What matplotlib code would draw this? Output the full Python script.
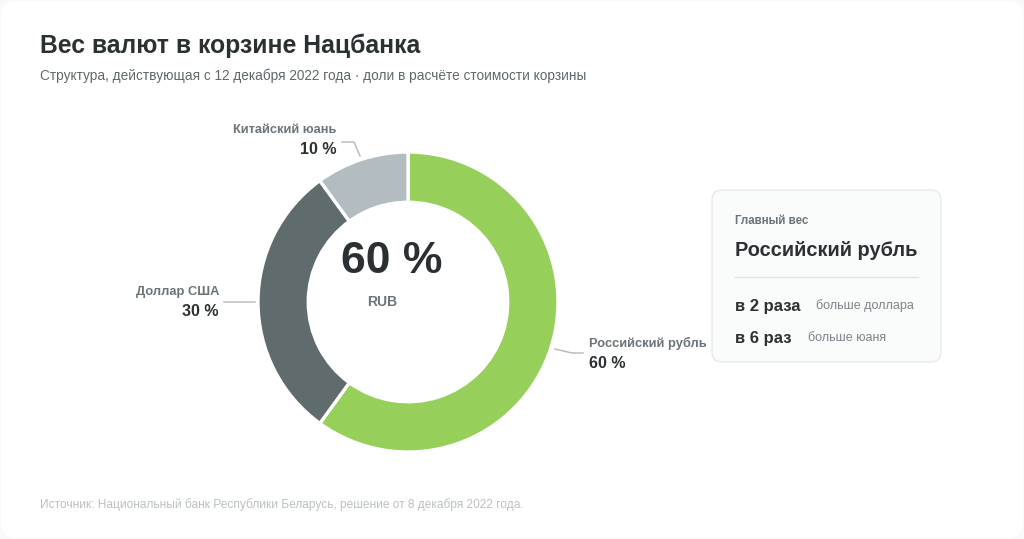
import matplotlib
matplotlib.use("Agg")
import matplotlib.pyplot as plt
from matplotlib.patches import FancyBboxPatch

plt.rcParams['font.family'] = ['Liberation Sans', 'DejaVu Sans']

# Data
currencies = ["Российский рубль", "Доллар США", "Китайский юань"]
codes = ["RUB", "USD", "CNY"]
shares = [60, 30, 10]
colors = ["#97cf5b", "#606b6e", "#b3bcc1"]

title = "Вес валют в корзине Нацбанка"
subtitle = "Структура, действующая с 12 декабря 2022 года · доли в расчёте стоимости корзины"
source = "Источник: Национальный банк Республики Беларусь, решение от 8 декабря 2022 года."
card_head = "Главный вес"
card_rows = [("в 2 раза", "больше доллара"), ("в 6 раз", "больше юаня")]

W, H = 1024, 539
fig = plt.figure(figsize=(W / 100, H / 100), dpi=100)
fig.patch.set_facecolor("#f8f9f9")

bg = fig.add_axes([0, 0, 1, 1])
bg.set_xlim(0, W)
bg.set_ylim(H, 0)
bg.axis("off")
bg.add_patch(FancyBboxPatch((1, 1), W - 2, H - 2, boxstyle="round,pad=0,rounding_size=16",
                            facecolor="white", edgecolor="none", zorder=0))

DARK = "#2b3133"
MID = "#6b7478"
LIGHT = "#b9c1c5"

bg.text(40, 46, title, fontsize=17.8, fontweight="bold", color=DARK, va="center", ha="left")
bg.text(40, 76, subtitle, fontsize=9.8, color="#5f686c", va="center", ha="left")
bg.text(40, 505, source, fontsize=8.55, color=LIGHT, va="center", ha="left")

# Donut
cx, cy, R = 408, 302, 150
pax = fig.add_axes([(cx - R) / W, (H - cy - R) / H, 2 * R / W, 2 * R / H])
pax.pie(shares, colors=colors, startangle=90, counterclock=False, radius=1.0,
        wedgeprops=dict(width=0.335, edgecolor="white", linewidth=2.4))
pax.set_xlim(-1, 1)
pax.set_ylim(-1, 1)
pax.axis("off")

pax.text(-0.11, 0.27, f"{shares[0]} %", fontsize=32, fontweight="bold", color=DARK,
         ha="center", va="center", transform=pax.transData)
pax.text(-0.17, -0.0, codes[0], fontsize=10, fontweight="bold", color=MID,
         ha="center", va="center", transform=pax.transData)

# Labels & leader lines
lc = "#b7bfc3"
# CNY
bg.plot([342, 354, 360], [142, 142, 156], color=lc, lw=1.1, zorder=3)
bg.text(336, 130, currencies[2], fontsize=9.2, fontweight="bold", color=MID, ha="right", va="center")
bg.text(336, 150, f"{shares[2]} %", fontsize=11.5, fontweight="bold", color=DARK, ha="right", va="center")
# USD
bg.plot([224, 255], [302, 302], color=lc, lw=1.1, zorder=3)
bg.text(219, 292, currencies[1], fontsize=9.3, fontweight="bold", color=MID, ha="right", va="center")
bg.text(219, 312, f"{shares[1]} %", fontsize=11.5, fontweight="bold", color=DARK, ha="right", va="center")
# RUB
bg.plot([555, 572, 583], [349, 353, 353], color=lc, lw=1.1, zorder=3)
bg.text(589, 343, currencies[0], fontsize=9.25, fontweight="bold", color=MID, ha="left", va="center")
bg.text(589, 364, f"{shares[0]} %", fontsize=11.5, fontweight="bold", color=DARK, ha="left", va="center")

# Card
bg.add_patch(FancyBboxPatch((712, 190), 229, 172, boxstyle="round,pad=0,rounding_size=10",
                            facecolor="#fafbfb", edgecolor="#e7eaeb", lw=1.0, zorder=1))
bg.text(735, 221, card_head, fontsize=8.3, fontweight="bold", color=MID, ha="left", va="center", zorder=2)
bg.text(735, 251, currencies[0], fontsize=14.4, fontweight="bold", color=DARK, ha="left", va="center", zorder=2)
bg.plot([735, 918], [277, 277], color="#e0e4e5", lw=1.0, zorder=2)
row_y = [306, 338]
sub_x = [816, 808]
for (big, small), y, sx in zip(card_rows, row_y, sub_x):
    bg.text(735, y, big, fontsize=12, fontweight="bold", color=DARK, ha="left", va="center", zorder=2)
    bg.text(sx, y, small, fontsize=9, color="#7b8488", ha="left", va="center", zorder=2)

fig.savefig("out.png", dpi=100, facecolor=fig.get_facecolor())
